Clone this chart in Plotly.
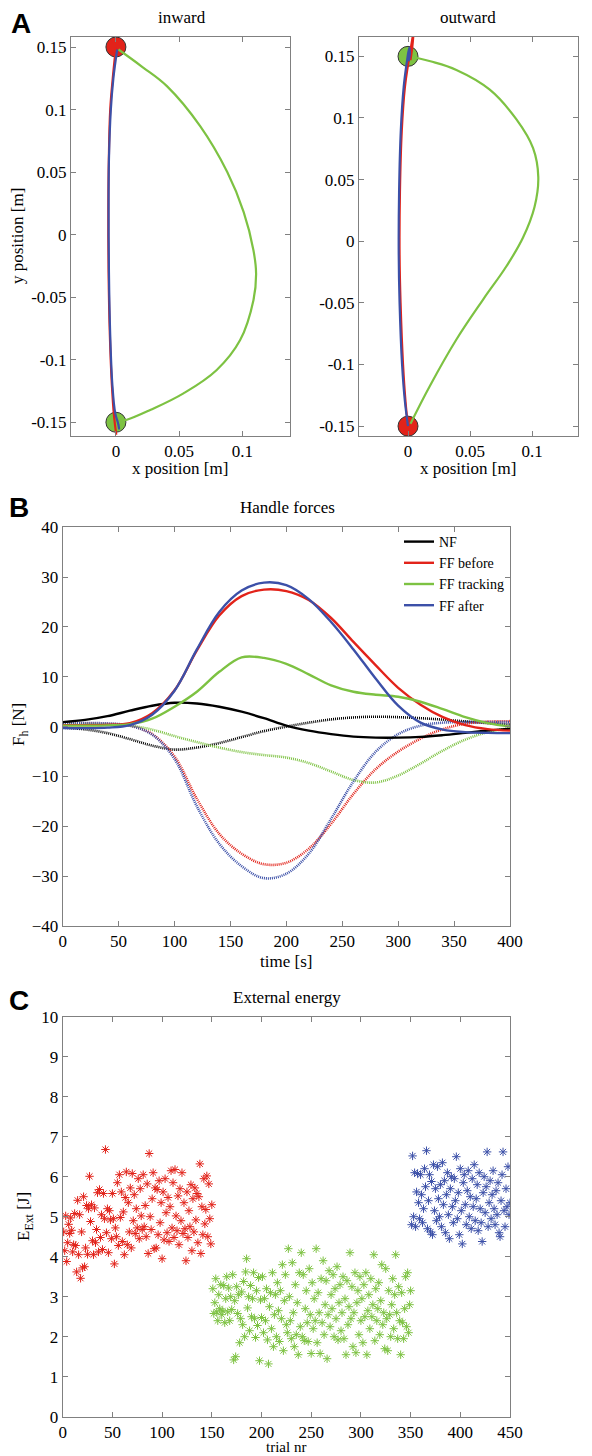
import plotly.graph_objects as go

# page body has an 8px margin, so the figure is sized to fill the rest of the window
PAGE_OFF = 8
W, H = 592 - PAGE_OFF, 1456 - PAGE_OFF
RED = "#E2231A"
GREEN = "#7DC242"
BLUE = "#3C50A8"
BLACK = "#000000"
FONT = "Liberation Serif"

# ---------------- Panel A data ----------------
in_red_x = [0.000, -0.0025, -0.0045, -0.0056, -0.0060, -0.0058, -0.0048, -0.0032, -0.0015, 0.0003]
in_red_y = [0.150, 0.125, 0.100, 0.060, 0.020, -0.030, -0.080, -0.120, -0.145, -0.160]
in_blue_x = [0.001, -0.002, -0.0040, -0.0055, -0.0058, -0.0055, -0.0045, -0.0028, -0.0005, 0.0015, 0.0025, 0.0020]
in_blue_y = [0.148, 0.125, 0.100, 0.060, 0.020, -0.030, -0.080, -0.120, -0.143, -0.150, -0.155, -0.152]
in_green_x = [0.002, 0.021, 0.0403, 0.0666, 0.088, 0.101, 0.1087, 0.1108, 0.1087, 0.0982, 0.0797, 0.0534, 0.0271, 0.0087, 0.003]
in_green_y = [0.148, 0.134, 0.1187, 0.0867, 0.050, 0.018, -0.0125, -0.031, -0.0524, -0.0843, -0.1082, -0.1269, -0.1402, -0.148, -0.149]

out_red_x = [0.000, -0.002, -0.004, -0.006, -0.0068, -0.0065, -0.005, -0.0025, 0.000, 0.0025, 0.0045, 0.0035, 0.0020]
out_red_y = [-0.150, -0.130, -0.100, -0.050, -0.010, 0.040, 0.090, 0.125, 0.143, 0.158, 0.170, 0.158, 0.147]
out_blue_x = [0.000, -0.0025, -0.0048, -0.0068, -0.0075, -0.0072, -0.0058, -0.0035, -0.001, 0.001, 0.0015, 0.0005]
out_blue_y = [-0.150, -0.130, -0.100, -0.050, -0.010, 0.040, 0.090, 0.125, 0.145, 0.157, 0.152, 0.146]
out_green_x = [0.002, 0.0175, 0.039, 0.0605, 0.0793, 0.0927, 0.1020, 0.1050, 0.1008, 0.0874, 0.0659, 0.039, 0.018, 0.006, 0.002]
out_green_y = [-0.148, -0.1176, -0.0797, -0.0473, -0.0203, 0.003, 0.028, 0.052, 0.0755, 0.0988, 0.123, 0.139, 0.146, 0.149, 0.150]

target_top = [0.0, 0.15]
target_bottom = [0.0, -0.15]

a_y_ticks = [-0.15, -0.1, -0.05, 0, 0.05, 0.1, 0.15]
a_y_labels = ["-0.15", "-0.1", "-0.05", "0", "0.05", "0.1", "0.15"]
a_x_ticks = [0, 0.05, 0.1]
a_x_labels = ["0", "0.05", "0.1"]

# ---------------- Panel B data ----------------
time_s = [0, 20, 40, 60, 80, 100, 120, 140, 160, 180, 200, 220, 240, 260, 280, 300, 320, 340, 360, 380, 400]
nf_solid = [0.9, 1.35, 2.1, 3.2, 4.2, 4.8, 4.65, 4.0, 3.0, 1.7, 0.2, -0.8, -1.5, -2.0, -2.2, -2.2, -2.05, -1.7, -1.25, -0.8, -0.4]
nf_dotted = [-0.2, -0.55, -1.3, -2.5, -3.8, -4.6, -4.2, -3.3, -2.1, -0.9, 0.0, 0.8, 1.45, 1.85, 2.0, 1.9, 1.7, 1.4, 1.05, 0.7, 0.4]
ffb_solid = [0.3, 0.3, 0.35, 0.7, 2.7, 7.3, 15.3, 22.3, 26.2, 27.5, 27.2, 25.4, 21.8, 17.0, 12.3, 7.8, 4.4, 1.9, 0.3, -0.5, -0.8]
ffb_dotted = [0.6, 0.6, 0.55, 0.2, -1.5, -6.0, -14.5, -21.5, -25.5, -27.6, -27.3, -24.5, -19.5, -13.5, -8.5, -5.0, -2.4, -0.5, 0.6, 1.0, 1.1]
fft_solid = [0.2, 0.2, 0.25, 0.5, 1.6, 4.0, 7.0, 11.0, 13.9, 13.8, 12.6, 10.5, 8.3, 7.0, 6.4, 6.0, 5.0, 3.5, 1.9, 0.7, 0.0]
fft_dotted = [0.5, 0.5, 0.45, 0.2, -0.6, -1.9, -3.1, -4.2, -5.1, -5.7, -6.2, -7.3, -9.0, -10.7, -11.2, -9.8, -7.4, -4.8, -2.6, -1.1, -0.3]
ffa_solid = [-0.3, -0.3, -0.2, 0.3, 2.4, 7.2, 15.5, 23.0, 27.3, 28.9, 28.4, 25.6, 21.0, 15.5, 9.6, 4.2, 0.8, -0.6, -1.1, -1.25, -1.3]
ffa_dotted = [0.7, 0.7, 0.65, 0.2, -1.6, -6.5, -16.0, -23.5, -28.0, -30.4, -29.5, -25.5, -18.5, -11.0, -5.0, -1.5, 0.2, 0.8, 0.9, 0.9, 0.9]

b_x_ticks = [0, 50, 100, 150, 200, 250, 300, 350, 400]
b_y_ticks = [-40, -30, -20, -10, 0, 10, 20, 30, 40]

# ---------------- Panel C data ----------------
red_trials = list(range(1, 151))
red_energy = [
    4.62, 4.15, 5.02, 3.88, 4.35, 4.81, 4.58, 4.97, 4.66, 4.12,
    4.30, 5.08, 4.28, 3.62, 5.41, 4.05, 5.05, 3.46, 4.62, 3.72,
    5.50, 3.75, 4.22, 5.28, 4.06, 5.20, 6.01, 4.88, 5.30, 4.40,
    4.05, 5.22, 4.35, 4.68, 5.60, 4.12, 5.68, 4.48, 5.05, 4.18,
    5.58, 4.95, 6.68, 4.60, 5.20, 4.10, 5.15, 4.92, 4.45, 5.58,
    4.95, 3.82, 4.72, 4.50, 5.85, 4.28, 6.05, 4.98, 5.62, 4.38,
    5.12, 4.05, 5.48, 6.12, 4.30, 5.35, 4.62, 5.72, 4.22, 6.08,
    4.90, 5.55, 4.58, 5.20, 4.72, 5.95, 4.45, 5.70, 5.02, 4.68,
    6.05, 4.75, 5.28, 4.50, 5.82, 4.08, 6.58, 5.00, 4.68, 5.45,
    6.10, 4.20, 5.72, 4.22, 5.68, 4.55, 5.90, 4.85, 5.35, 3.95,
    5.62, 4.42, 5.95, 5.10, 4.60, 5.48, 4.38, 5.25, 6.15, 4.72,
    5.85, 4.48, 6.18, 5.02, 4.65, 5.52, 4.30, 5.70, 4.90, 6.10,
    4.58, 5.35, 4.70, 3.90, 5.62, 4.48, 5.15, 4.75, 5.80, 4.15,
    5.45, 4.62, 5.72, 4.92, 5.58, 4.35, 5.50, 6.32, 4.08, 5.25,
    4.55, 5.95, 4.82, 5.18, 6.02, 4.50, 5.82, 4.95, 4.32, 5.30,
]
green_trials = list(range(151, 351))
green_energy = [
    3.20, 2.58, 2.85, 3.45, 2.62, 2.40, 3.05, 2.70, 3.30, 2.55,
    2.65, 3.28, 2.35, 2.95, 3.50, 2.62, 3.22, 2.40, 3.00, 2.68,
    3.55, 1.42, 2.90, 1.50, 3.25, 2.58, 3.05, 1.85, 2.45, 3.12,
    2.30, 3.38, 2.00, 3.62, 3.95, 2.72, 3.00, 2.15, 3.28, 2.50,
    2.95, 3.60, 2.45, 1.98, 3.15, 2.28, 3.48, 1.40, 2.92, 2.48,
    3.50, 2.10, 2.95, 2.40, 3.20, 1.92, 1.32, 2.75, 3.10, 2.20,
    3.60, 1.75, 2.55, 3.05, 2.00, 3.35, 2.65, 1.88, 3.15, 2.45,
    3.80, 1.65, 2.90, 3.55, 2.30, 2.10, 4.20, 3.00, 2.40, 1.95,
    3.85, 2.60, 1.75, 3.30, 2.05, 2.85, 1.55, 3.60, 2.25, 4.10,
    2.00, 3.55, 1.90, 2.70, 3.15, 2.35, 1.88, 3.70, 2.55, 1.58,
    3.35, 2.20, 2.95, 2.40, 4.20, 1.85, 3.10, 2.60, 1.58, 3.45,
    2.35, 3.90, 2.05, 2.80, 3.40, 1.45, 2.55, 3.65, 2.25, 3.05,
    2.70, 3.55, 2.00, 3.20, 2.45, 3.75, 1.92, 2.85, 3.30, 2.15,
    2.60, 3.50, 1.95, 2.95, 1.55, 3.40, 2.30, 2.75, 4.10, 2.45,
    3.25, 1.75, 2.60, 3.60, 1.60, 2.85, 3.15, 2.05, 3.50, 2.40,
    2.95, 1.85, 3.30, 2.50, 3.60, 1.55, 2.65, 3.05, 2.20, 3.45,
    2.50, 2.80, 4.05, 1.90, 3.20, 2.40, 2.70, 3.35, 2.05, 2.90,
    3.80, 2.30, 2.60, 1.70, 3.70, 2.45, 1.65, 3.15, 2.55, 2.00,
    2.80, 3.45, 2.20, 3.05, 4.05, 2.60, 1.95, 3.25, 2.40, 1.55,
    3.10, 2.35, 1.95, 2.70, 3.50, 2.25, 3.60, 2.10, 2.80, 3.15,
]
blue_trials = list(range(351, 451))
blue_energy = [
    4.80, 6.52, 5.00, 6.10, 4.75, 5.62, 6.08, 5.35, 4.95, 6.05,
    5.55, 4.85, 5.20, 6.20, 5.75, 6.65, 4.70, 5.40, 6.05, 4.62,
    5.88, 4.55, 6.30, 5.15, 5.70, 4.90, 6.25, 5.45, 5.00, 5.80,
    4.75, 6.35, 5.30, 5.90, 4.60, 5.55, 6.10, 5.05, 4.45, 5.70,
    6.00, 5.25, 4.85, 5.95, 5.40, 6.50, 4.95, 5.60, 4.55, 6.20,
    5.15, 4.32, 5.85, 6.05, 5.30, 4.80, 5.65, 6.15, 5.00, 5.50,
    4.70, 5.95, 5.25, 6.30, 4.90, 5.45, 5.80, 4.65, 6.10, 5.20,
    4.85, 4.38, 5.60, 6.00, 5.10, 5.75, 6.62, 4.75, 5.35, 5.90,
    4.95, 5.55, 6.15, 5.20, 4.80, 5.65, 5.05, 5.85, 4.60, 4.50,
    5.40, 6.05, 6.62, 5.15, 4.75, 5.70, 5.25, 6.25, 5.05, 5.35,
]
c_x_ticks = [0, 50, 100, 150, 200, 250, 300, 350, 400, 450]
c_y_ticks = list(range(0, 11))


def px_x(p):
    return (p - PAGE_OFF) / W


def px_y(p):
    return 1 - (p - PAGE_OFF) / H


fig = go.Figure()

# ---- Panel A: inward ----
fig.add_trace(go.Scatter(x=[target_top[0]], y=[target_top[1]], mode="markers",
                         marker=dict(size=20, color=RED, line=dict(color="#333333", width=1)),
                         xaxis="x", yaxis="y", showlegend=False))
fig.add_trace(go.Scatter(x=[target_bottom[0]], y=[target_bottom[1]], mode="markers",
                         marker=dict(size=20, color=GREEN, line=dict(color="#333333", width=1)),
                         xaxis="x", yaxis="y", showlegend=False))
for xs, ys, c in [(in_green_x, in_green_y, GREEN), (in_red_x, in_red_y, RED), (in_blue_x, in_blue_y, BLUE)]:
    fig.add_trace(go.Scatter(x=xs, y=ys, mode="lines", line=dict(color=c, width=2.2, shape="spline", smoothing=1.1),
                             xaxis="x", yaxis="y", showlegend=False))

# ---- Panel A: outward ----
fig.add_trace(go.Scatter(x=[target_top[0]], y=[target_top[1]], mode="markers",
                         marker=dict(size=20, color=GREEN, line=dict(color="#333333", width=1)),
                         xaxis="x2", yaxis="y2", showlegend=False))
fig.add_trace(go.Scatter(x=[target_bottom[0]], y=[target_bottom[1]], mode="markers",
                         marker=dict(size=20, color=RED, line=dict(color="#333333", width=1)),
                         xaxis="x2", yaxis="y2", showlegend=False))
for xs, ys, c in [(out_green_x, out_green_y, GREEN), (out_red_x, out_red_y, RED), (out_blue_x, out_blue_y, BLUE)]:
    fig.add_trace(go.Scatter(x=xs, y=ys, mode="lines", line=dict(color=c, width=2.2, shape="spline", smoothing=1.1),
                             xaxis="x2", yaxis="y2", showlegend=False))

# ---- Panel B ----
series_b = [
    ("NF", nf_solid, nf_dotted, BLACK),
    ("FF before", ffb_solid, ffb_dotted, RED),
    ("FF tracking", fft_solid, fft_dotted, GREEN),
    ("FF after", ffa_solid, ffa_dotted, BLUE),
]
for name, f, fd, c in series_b:
    fig.add_trace(go.Scatter(x=time_s, y=fd, mode="lines", name=name + " (dotted)",
                             line=dict(color=c, width=2.6, dash="1px,1px", shape="spline", smoothing=1.0),
                             xaxis="x3", yaxis="y3", showlegend=False))
for name, f, fd, c in series_b:
    fig.add_trace(go.Scatter(x=time_s, y=f, mode="lines", name=name,
                             line=dict(color=c, width=2.4, shape="spline", smoothing=1.0),
                             xaxis="x3", yaxis="y3", showlegend=True))

# ---- Panel C ----
for tr, en, c in [(red_trials, red_energy, RED), (green_trials, green_energy, GREEN), (blue_trials, blue_energy, BLUE)]:
    fig.add_trace(go.Scatter(x=tr, y=en, mode="markers",
                             marker=dict(symbol="asterisk-open", size=7, color=c, line=dict(color=c, width=1)),
                             xaxis="x4", yaxis="y4", showlegend=False))

axis_common = dict(showline=True, linecolor="#808080", linewidth=1, mirror="ticks", ticks="inside",
                   ticklen=5, tickcolor="#808080", showgrid=False, zeroline=False, automargin=False,
                   tickfont=dict(family=FONT, size=17, color="black"))

fig.update_layout(
    template="none",
    width=W, height=H, margin=dict(l=0, r=0, t=0, b=0, pad=0, autoexpand=False),
    paper_bgcolor="white", plot_bgcolor="white",
    font=dict(family=FONT, size=16, color="black"),
    xaxis=dict(domain=[px_x(71), px_x(290)], range=[-0.0355, 0.1376], anchor="y",
               tickvals=a_x_ticks, ticktext=a_x_labels, **axis_common),
    yaxis=dict(domain=[px_y(436), px_y(37)], range=[-0.161, 0.158], anchor="x",
               tickvals=a_y_ticks, ticktext=a_y_labels, **axis_common),
    xaxis2=dict(domain=[px_x(359), px_x(578)], range=[-0.0395, 0.137], anchor="y2",
                tickvals=a_x_ticks, ticktext=a_x_labels, **axis_common),
    yaxis2=dict(domain=[px_y(436), px_y(37)], range=[-0.158, 0.1657], anchor="x2",
                tickvals=a_y_ticks, ticktext=a_y_labels, **axis_common),
    xaxis3=dict(domain=[px_x(62.7), px_x(510)], range=[0, 400], anchor="y3",
                tickvals=b_x_ticks, **axis_common),
    yaxis3=dict(domain=[px_y(926), px_y(527.3)], range=[-40, 40], anchor="x3",
                tickvals=b_y_ticks, **axis_common),
    xaxis4=dict(domain=[px_x(62.7), px_x(510)], range=[0, 450], anchor="y4",
                tickvals=c_x_ticks, **axis_common),
    yaxis4=dict(domain=[px_y(1416.7), px_y(1016.7)], range=[0, 10], anchor="x4",
                tickvals=c_y_ticks, **axis_common),
    legend=dict(x=px_x(399), y=px_y(526), xanchor="left", yanchor="top",
                bgcolor="rgba(0,0,0,0)", borderwidth=0, font=dict(family=FONT, size=14, color="black"),
                tracegroupgap=0, itemwidth=30),
)

ann = []


def text(x, y, s, size=16, bold=False, angle=0):
    ann.append(dict(x=px_x(x), y=px_y(y), xref="paper", yref="paper", text=s, showarrow=False,
                    xanchor="center", yanchor="middle", textangle=angle,
                    font=dict(family="Liberation Sans" if bold else FONT, size=size, color="black")))


text(21, 23, "<b>A</b>", size=28, bold=True)
text(182, 17, "inward", size=17)
text(468, 17, "outward", size=17)
text(18, 236, "y position [m]", size=17, angle=-90)
text(180, 468, "x position [m]", size=17)
text(468, 468, "x position [m]", size=17)

text(19, 508, "<b>B</b>", size=28, bold=True)
text(287, 507, "Handle forces", size=17)
text(286, 962, "time [s]", size=17)
text(20, 725, "F<sub>h</sub> [N]", size=17, angle=-90)

text(19, 1000, "<b>C</b>", size=28, bold=True)
text(287, 998, "External energy", size=17)
text(286, 1447, "trial nr", size=15)
text(25, 1217, "E<sub>Ext</sub> [J]", size=17, angle=-90)

fig.update_layout(annotations=ann)
fig.write_html("out.html")
